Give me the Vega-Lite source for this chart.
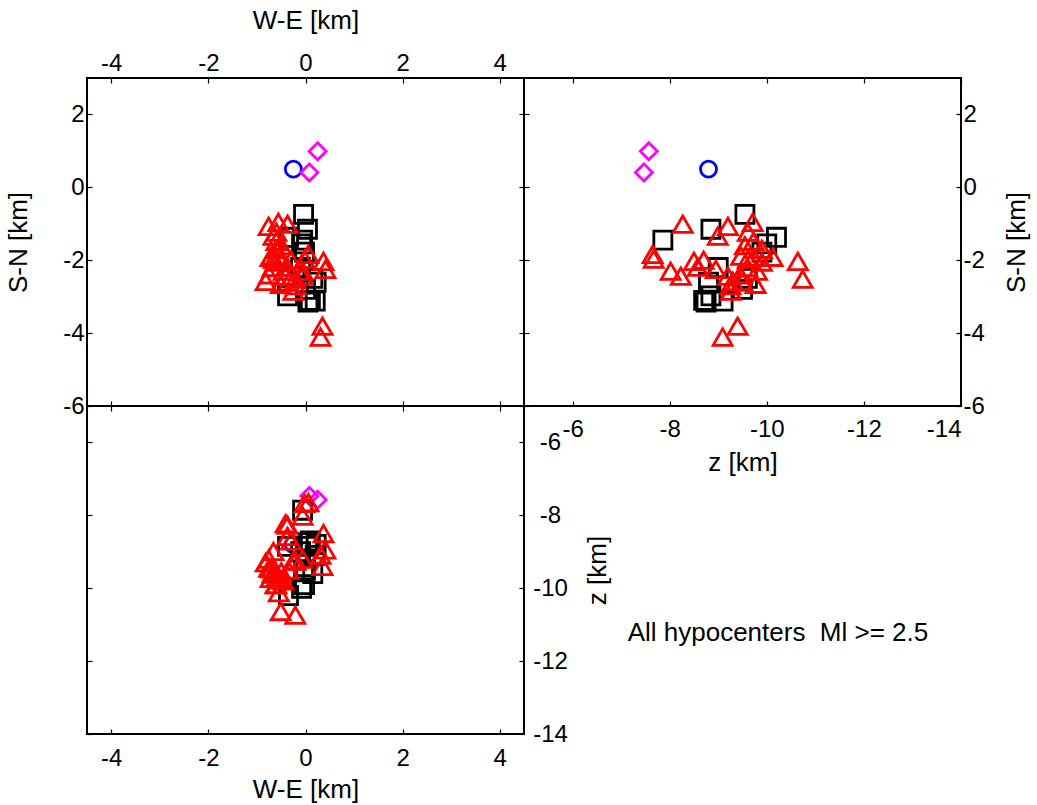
{
  "$schema": "https://vega.github.io/schema/vega-lite/v6.json",
  "padding": {"left": 4, "top": 6, "right": 5, "bottom": 5},
  "config": {
    "font": "Liberation Sans",
    "view": {"stroke": "black", "strokeWidth": 2},
    "axis": {
      "domain": false,
      "grid": false,
      "tickSize": -5,
      "tickColor": "black",
      "tickWidth": 1.2,
      "labelFont": "Liberation Sans",
      "labelFontSize": 24,
      "labelColor": "black",
      "labelPadding": 8,
      "labelExpr": "replace(datum.label, '\u2212', '-')",
      "titleFont": "Liberation Sans",
      "titleFontSize": 26,
      "titleFontWeight": "normal",
      "titleColor": "black",
      "titlePadding": 8
    }
  },
  "datasets": {
    "events": [
      {"t": "circle", "we": -0.25, "sn": 0.5, "z": -8.8},
      {"t": "diamond", "we": 0.25, "sn": 0.99, "z": -7.57},
      {"t": "diamond", "we": 0.08, "sn": 0.41, "z": -7.47},
      {"t": "square", "we": -0.04, "sn": -0.74, "z": -9.55},
      {"t": "square", "we": 0.04, "sn": -1.15, "z": -8.85},
      {"t": "square", "we": -0.06, "sn": -1.45, "z": -7.86},
      {"t": "square", "we": -0.35, "sn": -1.37, "z": -10.2},
      {"t": "square", "we": -0.08, "sn": -1.55, "z": -10.0},
      {"t": "square", "we": -0.02, "sn": -1.78, "z": -9.9},
      {"t": "square", "we": -0.1, "sn": -2.2, "z": -9.0},
      {"t": "square", "we": 0.22, "sn": -2.6, "z": -8.8},
      {"t": "square", "we": 0.15, "sn": -2.5, "z": -9.6},
      {"t": "square", "we": 0.0, "sn": -2.8, "z": -9.5},
      {"t": "square", "we": -0.37, "sn": -2.98, "z": -8.85},
      {"t": "square", "we": 0.1, "sn": -3.1, "z": -8.7},
      {"t": "square", "we": 0.2, "sn": -3.12, "z": -9.1},
      {"t": "square", "we": 0.05, "sn": -3.15, "z": -8.75},
      {"t": "triangle", "we": 0.06, "sn": -1.84, "z": -7.65},
      {"t": "triangle", "we": -0.02, "sn": -1.97, "z": -7.67},
      {"t": "triangle", "we": -0.06, "sn": -2.3, "z": -8.02},
      {"t": "triangle", "we": -0.41, "sn": -2.44, "z": -8.23},
      {"t": "triangle", "we": 0.37, "sn": -2.03, "z": -8.5},
      {"t": "triangle", "we": -0.37, "sn": -2.19, "z": -8.58},
      {"t": "triangle", "we": 0.41, "sn": -2.25, "z": -8.95},
      {"t": "triangle", "we": 0.35, "sn": -3.81, "z": -9.4},
      {"t": "triangle", "we": 0.31, "sn": -4.11, "z": -9.09},
      {"t": "triangle", "we": -0.21, "sn": -2.52, "z": -10.74},
      {"t": "triangle", "we": -0.51, "sn": -2.03, "z": -10.64},
      {"t": "triangle", "we": -0.76, "sn": -1.07, "z": -9.2},
      {"t": "triangle", "we": -0.56, "sn": -0.96, "z": -9.71},
      {"t": "triangle", "we": -0.37, "sn": -1.01, "z": -8.27},
      {"t": "triangle", "we": -0.6, "sn": -1.23, "z": -9.61},
      {"t": "triangle", "we": -0.66, "sn": -1.34, "z": -8.99},
      {"t": "triangle", "we": -0.6, "sn": -1.48, "z": -9.73},
      {"t": "triangle", "we": -0.82, "sn": -2.58, "z": -9.3},
      {"t": "triangle", "we": -0.25, "sn": -2.85, "z": -9.26},
      {"t": "triangle", "we": -0.51, "sn": -2.66, "z": -9.77},
      {"t": "triangle", "we": -0.06, "sn": -2.44, "z": -9.2},
      {"t": "triangle", "we": -0.7, "sn": -1.89, "z": -9.47},
      {"t": "triangle", "we": -0.65, "sn": -1.97, "z": -9.61},
      {"t": "triangle", "we": -0.72, "sn": -1.92, "z": -9.73},
      {"t": "triangle", "we": -0.55, "sn": -1.92, "z": -10.12},
      {"t": "triangle", "we": -0.68, "sn": -2.2, "z": -9.6},
      {"t": "triangle", "we": -0.6, "sn": -1.7, "z": -9.9},
      {"t": "triangle", "we": -0.45, "sn": -2.3, "z": -9.8},
      {"t": "triangle", "we": -0.35, "sn": -2.6, "z": -9.5},
      {"t": "triangle", "we": -0.75, "sn": -2.4, "z": -9.45},
      {"t": "triangle", "we": -0.5, "sn": -1.6, "z": -9.55},
      {"t": "triangle", "we": -0.2, "sn": -2.7, "z": -9.25},
      {"t": "triangle", "we": -0.62, "sn": -2.05, "z": -9.9},
      {"t": "triangle", "we": -0.3, "sn": -2.0, "z": -8.7}
    ]
  },
  "columns": 2,
  "spacing": 0,
  "bounds": "flush",
  "concat": [
    {
      "width": 437, "height": 328,
      "data": {"name": "events"},
      "layer": [
        {
          "mark": {"type": "point", "filled": false, "strokeWidth": 2.8, "opacity": 1},
          "encoding": {
            "x": {"field": "we", "type": "quantitative", "scale": {"domain": [-4.5, 4.5], "nice": false, "zero": false},
                  "axis": {"orient": "top", "title": "W-E [km]", "values": [-4, -2, 0, 2, 4], "labelPadding": 8, "titlePadding": 18}},
            "y": {"field": "sn", "type": "quantitative", "scale": {"domain": [-6, 3], "nice": false, "zero": false},
                  "axis": {"orient": "left", "title": "S-N [km]", "values": [-6, -4, -2, 0, 2], "labelPadding": 8, "titlePadding": 31}},
            "shape": {"field": "t", "type": "nominal", "legend": null,
                      "scale": {"domain": ["circle", "diamond", "square", "triangle"], "range": ["circle", "diamond", "square", "triangle-up"]}},
            "color": {"field": "t", "type": "nominal", "legend": null,
                      "scale": {"domain": ["circle", "diamond", "square", "triangle"], "range": ["#0000ff", "#ff00ff", "#000000", "#ff0000"]}},
            "size": {"field": "t", "type": "nominal", "legend": null,
                     "scale": {"domain": ["circle", "diamond", "square", "triangle"], "range": [256, 360, 140, 450]}}
          }
        },
        {
          "mark": {"type": "point", "opacity": 0},
          "encoding": {
            "x": {"field": "we", "type": "quantitative", "axis": {"orient": "bottom", "title": null, "labels": false, "values": [-4, -2, 0, 2, 4]}},
            "y": {"field": "sn", "type": "quantitative", "axis": {"orient": "right", "title": null, "labels": false, "values": [-6, -4, -2, 0, 2]}}
          }
        }
      ],
      "resolve": {"axis": {"x": "independent", "y": "independent"}}
    },
    {
      "width": 437, "height": 328,
      "data": {"name": "events"},
      "layer": [
        {
          "mark": {"type": "point", "filled": false, "strokeWidth": 2.8, "opacity": 1},
          "encoding": {
            "x": {"field": "z", "type": "quantitative", "scale": {"domain": [-14, -5], "reverse": true, "nice": false, "zero": false},
                  "axis": {"orient": "bottom", "title": "z [km]", "values": [-6, -8, -10, -12, -14], "labelPadding": 16, "titlePadding": 8}},
            "y": {"field": "sn", "type": "quantitative", "scale": {"domain": [-6, 3], "nice": false, "zero": false},
                  "axis": {"orient": "right", "title": "S-N [km]", "titleAngle": 270, "titleBaseline": "top", "values": [-6, -4, -2, 0, 2], "labelPadding": 7, "titlePadding": 19}},
            "shape": {"field": "t", "type": "nominal", "legend": null,
                      "scale": {"domain": ["circle", "diamond", "square", "triangle"], "range": ["circle", "diamond", "square", "triangle-up"]}},
            "color": {"field": "t", "type": "nominal", "legend": null,
                      "scale": {"domain": ["circle", "diamond", "square", "triangle"], "range": ["#0000ff", "#ff00ff", "#000000", "#ff0000"]}},
            "size": {"field": "t", "type": "nominal", "legend": null,
                     "scale": {"domain": ["circle", "diamond", "square", "triangle"], "range": [256, 360, 140, 450]}}
          }
        },
        {
          "mark": {"type": "point", "opacity": 0},
          "encoding": {
            "x": {"field": "z", "type": "quantitative", "axis": {"orient": "top", "title": null, "labels": false, "values": [-6, -8, -10, -12, -14]}},
            "y": {"field": "sn", "type": "quantitative", "axis": {"orient": "left", "title": null, "labels": false, "values": [-6, -4, -2, 0, 2]}}
          }
        }
      ],
      "resolve": {"axis": {"x": "independent", "y": "independent"}}
    },
    {
      "width": 437, "height": 328,
      "data": {"name": "events"},
      "layer": [
        {
          "mark": {"type": "point", "filled": false, "strokeWidth": 2.8, "opacity": 1},
          "encoding": {
            "x": {"field": "we", "type": "quantitative", "scale": {"domain": [-4.5, 4.5], "nice": false, "zero": false},
                  "axis": {"orient": "bottom", "title": "W-E [km]", "values": [-4, -2, 0, 2, 4], "labelPadding": 17, "titlePadding": 6}},
            "y": {"field": "z", "type": "quantitative", "scale": {"domain": [-14, -5], "nice": false, "zero": false},
                  "axis": {"orient": "right", "title": "z [km]", "titleAngle": 270, "titleBaseline": "top", "values": [-6, -8, -10, -12, -14], "labelAlign": "center", "labelPadding": 31, "titlePadding": 17}},
            "shape": {"field": "t", "type": "nominal", "legend": null,
                      "scale": {"domain": ["circle", "diamond", "square", "triangle"], "range": ["circle", "diamond", "square", "triangle-up"]}},
            "color": {"field": "t", "type": "nominal", "legend": null,
                      "scale": {"domain": ["circle", "diamond", "square", "triangle"], "range": ["#0000ff", "#ff00ff", "#000000", "#ff0000"]}},
            "size": {"field": "t", "type": "nominal", "legend": null,
                     "scale": {"domain": ["circle", "diamond", "square", "triangle"], "range": [256, 360, 140, 450]}}
          }
        },
        {
          "mark": {"type": "point", "opacity": 0},
          "encoding": {
            "x": {"field": "we", "type": "quantitative", "axis": {"orient": "top", "title": null, "labels": false, "values": [-4, -2, 0, 2, 4]}},
            "y": {"field": "z", "type": "quantitative", "axis": {"orient": "left", "title": null, "labels": false, "values": [-6, -8, -10, -12, -14]}}
          }
        }
      ],
      "resolve": {"axis": {"x": "independent", "y": "independent"}}
    },
    {
      "width": 437, "height": 328,
      "view": {"stroke": null},
      "data": {"values": [{"label": "All hypocenters\u00a0 Ml >= 2.5", "zpos": -10.23, "dpos": -11.23}]},
      "mark": {"type": "text", "fontSize": 26, "font": "Liberation Sans", "align": "center", "baseline": "middle", "color": "black"},
      "encoding": {
        "x": {"field": "zpos", "type": "quantitative", "scale": {"domain": [-14, -5], "reverse": true, "nice": false, "zero": false}, "axis": null},
        "y": {"field": "dpos", "type": "quantitative", "scale": {"domain": [-14, -5], "nice": false, "zero": false}, "axis": null},
        "text": {"field": "label", "type": "nominal"}
      }
    }
  ]
}
